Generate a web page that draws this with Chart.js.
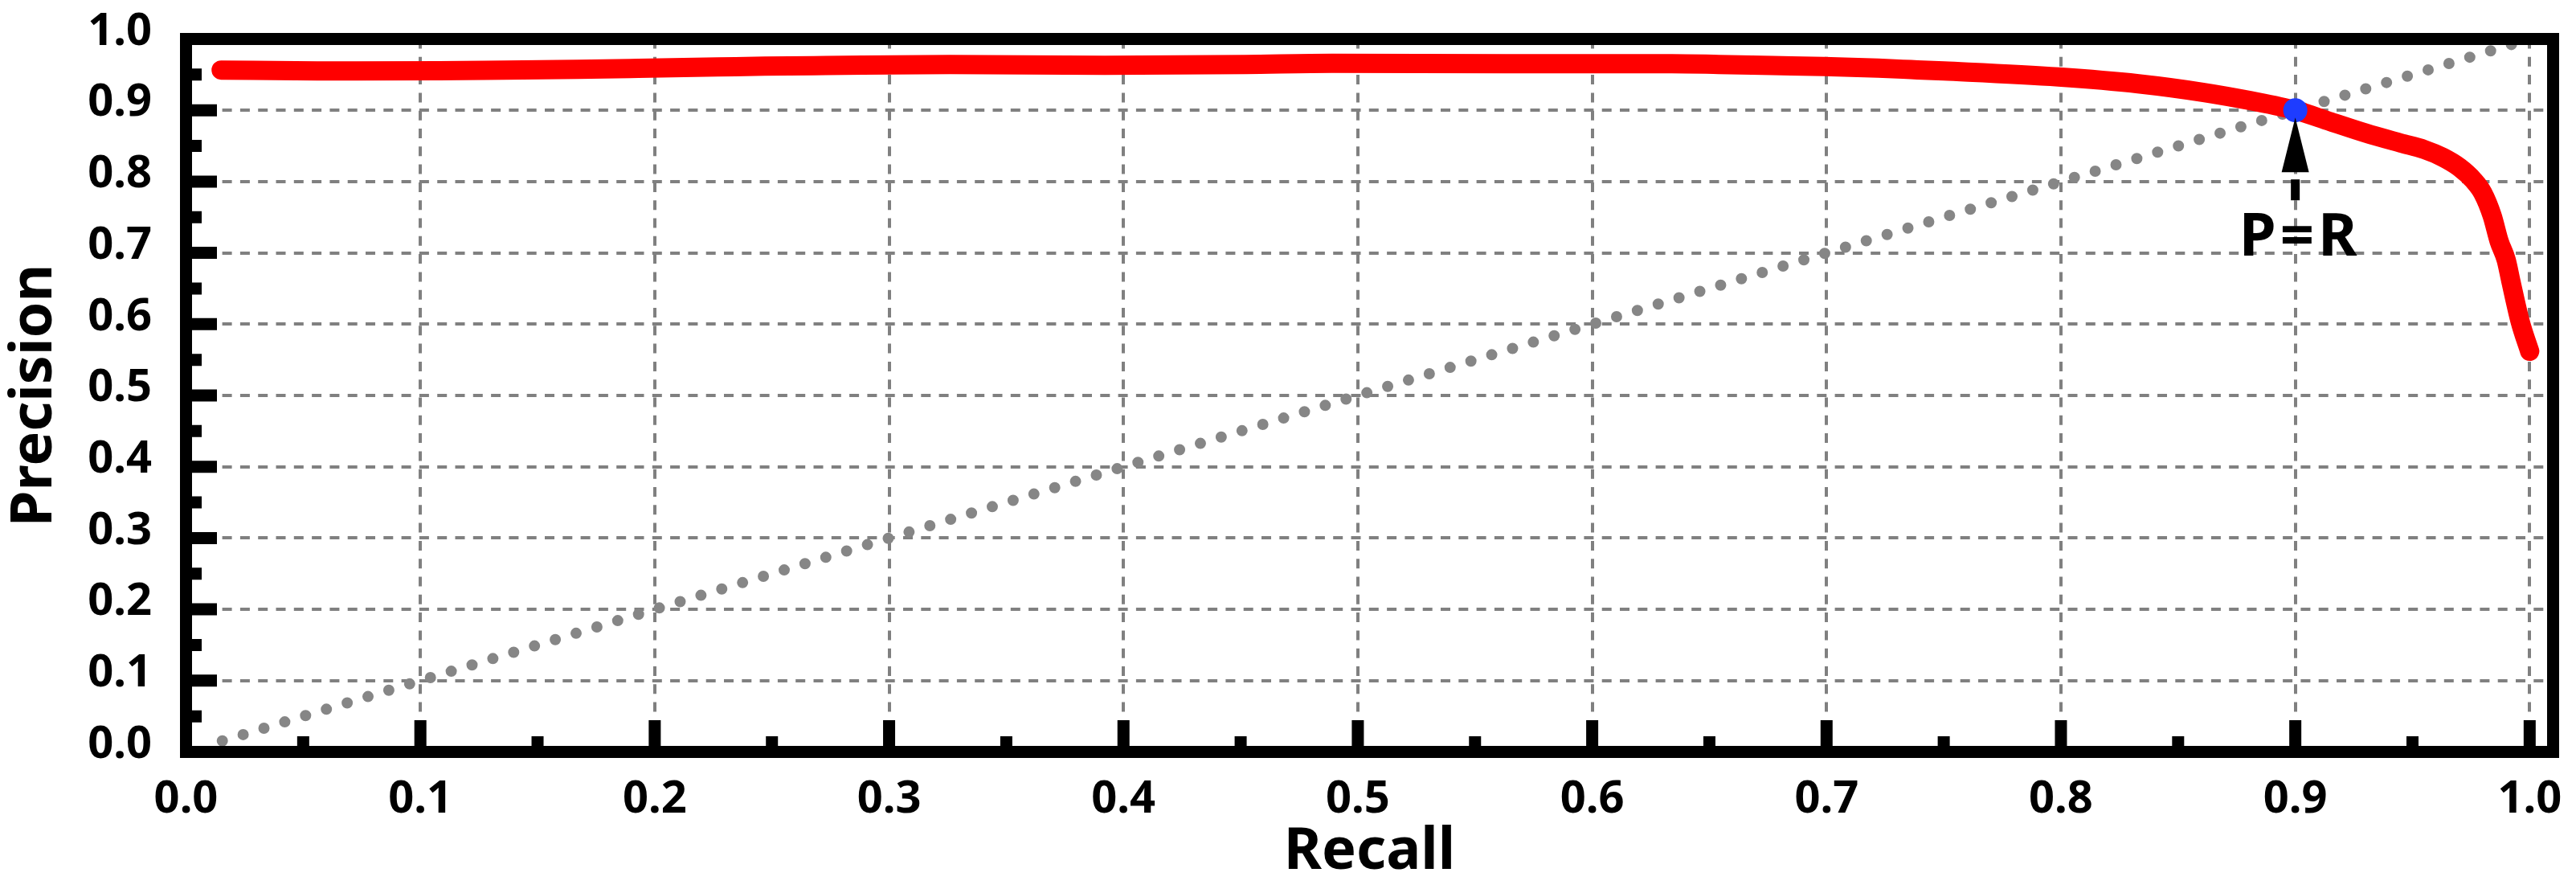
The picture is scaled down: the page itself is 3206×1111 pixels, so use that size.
<!DOCTYPE html>
<html>
<head>
<meta charset="utf-8">
<script src="https://cdn.jsdelivr.net/npm/chart.js@4.4.1/dist/chart.umd.min.js"></script>
<style>
html,body{margin:0;padding:0;background:#fff;}
canvas{display:block;}
</style>
</head>
<body>
<canvas id="c" width="3206" height="1111" style="width:3206px;height:1111px"></canvas>
<script>
// ---------- data ----------
const recall = [0.015, 0.056, 0.108, 0.136, 0.167, 0.193, 0.227, 0.247, 0.273, 0.326,
                0.392, 0.452, 0.489, 0.563, 0.634, 0.654, 0.677, 0.699, 0.722, 0.736,
                0.750, 0.799, 0.833, 0.861, 0.881, 0.900, 0.915, 0.930, 0.945, 0.955,
                0.963, 0.970, 0.976, 0.980, 0.984, 0.987, 0.990, 0.992, 0.996, 1.000];
const precision = [0.9564, 0.9553, 0.9555, 0.9564, 0.9575, 0.9588, 0.9607, 0.9619, 0.9628, 0.9643,
                   0.9632, 0.9643, 0.9660, 0.9653, 0.9653, 0.9643, 0.9628, 0.9614, 0.9590, 0.9571,
                   0.9551, 0.9467, 0.9372, 0.9250, 0.9134, 0.9000, 0.8840, 0.8680, 0.8540, 0.8450,
                   0.8340, 0.8200, 0.8020, 0.7840, 0.7520, 0.7160, 0.6900, 0.6600, 0.6030, 0.5620];
const diagRecall = [0.0155, 1.0];
const diagPrecision = [0.0155, 1.0];
const prRecall = [0.9];
const prPrecision = [0.9];
const prLabel = 'P=R';
const xTickValues = [0, 0.1, 0.2, 0.3, 0.4, 0.5, 0.6, 0.7, 0.8, 0.9, 1.0];
const xTickLabels = ['0.0','0.1','0.2','0.3','0.4','0.5','0.6','0.7','0.8','0.9','1.0'];
const yTickValues = [0, 0.1, 0.2, 0.3, 0.4, 0.5, 0.6, 0.7, 0.8, 0.9, 1.0];
const yTickLabels = ['0.0','0.1','0.2','0.3','0.4','0.5','0.6','0.7','0.8','0.9','1.0'];
const xTitle = 'Recall';
const yTitle = 'Precision';

// ---------- helpers ----------
const FAMILY = "'Noto Sans', 'DejaVu Sans', sans-serif";
const toXY = (xs, ys) => xs.map((x, i) => ({x: x, y: ys[i]}));

const framePlugin = {
  id: 'frameAndNotes',
  afterDatasetsDraw(chart) {
    const ctx = chart.ctx;
    const ca = chart.chartArea;
    const xs = chart.scales.x, ys = chart.scales.y;
    ctx.save();
    ctx.strokeStyle = '#000';
    ctx.fillStyle = '#000';
    ctx.lineWidth = 15;
    ctx.lineCap = 'butt';
    // x ticks (inward), major + minor
    const xv = xs.ticks.map(t => t.value);
    const xMinor = [];
    for (let i = 0; i < xv.length - 1; i++) xMinor.push((xv[i] + xv[i + 1]) / 2);
    ctx.beginPath();
    xv.forEach(v => { const p = xs.getPixelForValue(v); ctx.moveTo(p, ca.bottom); ctx.lineTo(p, ca.bottom - 39.5); });
    xMinor.forEach(v => { const p = xs.getPixelForValue(v); ctx.moveTo(p, ca.bottom); ctx.lineTo(p, ca.bottom - 19.5); });
    // y ticks (inward)
    const yv = ys.ticks.map(t => t.value);
    const yMinor = [];
    for (let i = 0; i < yv.length - 1; i++) yMinor.push((yv[i] + yv[i + 1]) / 2);
    yv.forEach(v => { const p = ys.getPixelForValue(v); ctx.moveTo(ca.left, p); ctx.lineTo(ca.left + 38.5, p); });
    yMinor.forEach(v => { const p = ys.getPixelForValue(v); ctx.moveTo(ca.left, p); ctx.lineTo(ca.left + 19.5, p); });
    ctx.stroke();
    // frame
    ctx.lineJoin = 'miter';
    ctx.strokeRect(ca.left, ca.top, ca.right - ca.left, ca.bottom - ca.top);
    // arrow + label at P=R
    const px = xs.getPixelForValue(prRecall[0]);
    const py = ys.getPixelForValue(prPrecision[0]);
    ctx.beginPath();
    ctx.moveTo(px, py + 9);
    ctx.lineTo(px - 17, py + 77);
    ctx.lineTo(px + 17, py + 77);
    ctx.closePath();
    ctx.fill();
    ctx.fillRect(px - 5.5, py + 86, 11, 26);
    ctx.font = 'bold 74px ' + FAMILY;
    if ('letterSpacing' in ctx) ctx.letterSpacing = '5px';
    ctx.textAlign = 'center';
    ctx.textBaseline = 'alphabetic';
    ctx.fillText(prLabel, px + 6, py + 181);
    ctx.restore();
  }
};

const tickFont = {family: FAMILY, size: 56, weight: 'bold'};
const titleFont = {family: FAMILY, size: 72, weight: 'bold'};

new Chart(document.getElementById('c'), {
  type: 'line',
  data: {
    datasets: [
      {
        label: 'P=R point',
        data: toXY(prRecall, prPrecision),
        showLine: false,
        pointRadius: 15,
        pointBackgroundColor: '#1E3CFF',
        pointBorderWidth: 0,
        borderColor: '#1E3CFF'
      },
      {
        label: 'PR curve',
        data: toXY(recall, precision),
        borderColor: '#FF0000',
        borderWidth: 24,
        borderCapStyle: 'round',
        borderJoinStyle: 'round',
        cubicInterpolationMode: 'monotone',
        pointRadius: 0,
        fill: false
      },
      {
        label: 'P=R line',
        data: toXY(diagRecall, diagPrecision),
        borderColor: '#868686',
        borderWidth: 14,
        borderDash: [0, 27.07],
        borderCapStyle: 'round',
        pointRadius: 0,
        fill: false
      }
    ]
  },
  options: {
    responsive: false,
    devicePixelRatio: 1,
    animation: false,
    events: [],
    layout: {autoPadding: false, padding: {left: 0, right: 28.5, top: 48.5, bottom: 0}},
    plugins: {legend: {display: false}, tooltip: {enabled: false}},
    scales: {
      x: {
        type: 'linear',
        position: 'bottom',
        min: 0,
        max: 1.01,
        afterBuildTicks: s => { s.ticks = xTickValues.map(v => ({value: v})); },
        afterFit: s => { s.height = 175.5; s.paddingLeft = 0; s.paddingRight = 0; },
        ticks: {
          callback: (v, i) => xTickLabels[i],
          font: tickFont,
          color: '#000',
          padding: 26,
          maxRotation: 0,
          autoSkip: false
        },
        grid: {color: '#808080', lineWidth: 4, drawTicks: false},
        border: {display: false, dash: [12, 10.3]},
        title: {display: true, text: xTitle, font: titleFont, color: '#000', padding: {top: 0, bottom: 7}}
      },
      y: {
        type: 'linear',
        position: 'left',
        min: 0,
        max: 1,
        afterBuildTicks: s => { s.ticks = yTickValues.map(v => ({value: v})); },
        afterFit: s => { s.width = 231.5; s.paddingTop = 0; s.paddingBottom = 0; },
        ticks: {
          callback: (v, i) => yTickLabels[i],
          font: tickFont,
          color: '#000',
          padding: 42.5,
          labelOffset: -8.7,
          autoSkip: false
        },
        grid: {color: '#808080', lineWidth: 4, drawTicks: false},
        border: {display: false, dash: [12, 10.3]},
        title: {display: true, text: yTitle, font: titleFont, color: '#000', padding: {top: 0, bottom: 0}}
      }
    }
  },
  plugins: [framePlugin]
});
</script>
</body>
</html>
